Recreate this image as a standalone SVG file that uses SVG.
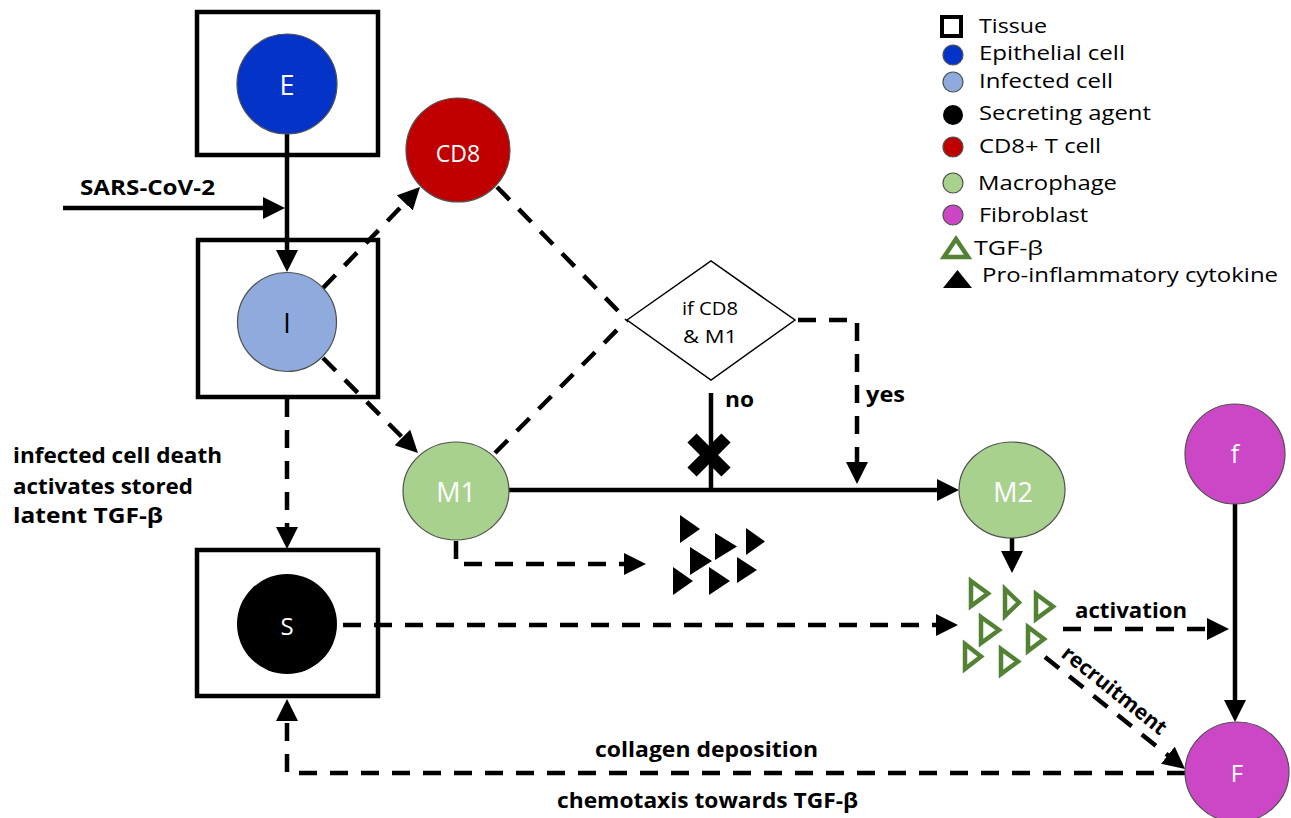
<svg xmlns="http://www.w3.org/2000/svg" width="1291" height="818" viewBox="0 0 1291 818">
<style>
.box{fill:none;stroke:#000;stroke-width:4.5}
.cell{stroke:#505050;stroke-width:1.2}
.nl{font-family:'Open Sans','Liberation Sans',sans-serif;fill:#fff;text-anchor:middle}
.t{font-family:'Open Sans','Liberation Sans',sans-serif;fill:#000}
.b{font-family:'Open Sans','Liberation Sans',sans-serif;font-weight:bold;fill:#000}
.s{fill:none;stroke:#000;stroke-width:4.5}
.d{fill:none;stroke:#000;stroke-width:4.5;stroke-dasharray:18 13}
.tg{fill:#fff;stroke:#548235;stroke-width:4.5;stroke-linejoin:miter}
</style>
<defs>
<marker id="ah" markerUnits="userSpaceOnUse" markerWidth="24" markerHeight="24" refX="14" refY="11" orient="auto">
<path d="M0,0 L22,11 L0,22 z" fill="#000"/>
</marker>
</defs>
<rect width="1291" height="818" fill="#fff"/>

<g id="connectors">
<path class="s" d="M63,208 H277" marker-end="url(#ah)"/>
<path class="s" d="M287,134 V264" marker-end="url(#ah)"/>
<path class="d" d="M323,288 L414.5,192.8" marker-end="url(#ah)"/>
<path class="d" d="M323,358 L412.3,447.3" marker-end="url(#ah)"/>
<path class="d" d="M287,399 V541" marker-end="url(#ah)"/>
<path class="d" d="M497,187 L627,320"/>
<path class="d" d="M495,453 L627,320"/>
<path class="d" d="M798,320 H857 V476" marker-end="url(#ah)"/>
<path class="s" d="M711,393 V490"/>
<path d="M692,438 L726,472 M726,438 L692,472" stroke="#000" stroke-width="13" fill="none"/>
<path class="s" d="M508,490 H951" marker-end="url(#ah)"/>
<path class="d" d="M456,541 V564 H638" marker-end="url(#ah)"/>
<path class="s" d="M1012,538 V565" marker-end="url(#ah)"/>
<path class="d" d="M343,625 H950" marker-end="url(#ah)"/>
<path class="d" d="M1063,629 H1221" marker-end="url(#ah)"/>
<path class="s" d="M1235,503 V714" marker-end="url(#ah)"/>
<path class="d" d="M1045,657 L1178.8,764" marker-end="url(#ah)"/>
<path class="d" d="M1185,773 H287 V707" marker-end="url(#ah)"/>
</g>

<g id="node-E">
<rect class="box" x="197" y="12" width="181" height="143"/>
<circle class="cell" cx="287" cy="84" r="50" fill="#0433C8"/>
<text class="nl" x="287" y="95" font-size="27">E</text>
</g>
<g id="node-I">
<rect class="box" x="198" y="240" width="180" height="157"/>
<circle class="cell" cx="287" cy="322" r="49.5" fill="#8FAADC"/>
<text class="nl" x="287" y="333" font-size="27" style="fill:#000">I</text>
</g>
<g id="node-S">
<rect class="box" x="197" y="550" width="181" height="146"/>
<circle cx="287" cy="624" r="50" fill="#000"/>
<text class="nl" x="287" y="635" font-size="24">S</text>
</g>
<g id="node-CD8">
<circle class="cell" cx="458" cy="150" r="52" fill="#C00000"/>
<text class="nl" x="458" y="162" font-size="23">CD8</text>
</g>
<g id="node-M1">
<ellipse class="cell" cx="456" cy="491" rx="53" ry="49" fill="#A9D18E"/>
<text class="nl" x="456" y="502" font-size="27">M1</text>
</g>
<g id="node-M2">
<ellipse class="cell" cx="1012" cy="490" rx="53" ry="48" fill="#A9D18E"/>
<text class="nl" x="1013" y="502" font-size="27">M2</text>
</g>
<g id="node-f">
<circle class="cell" cx="1235" cy="454" r="50" fill="#CB47C5"/>
<text class="nl" x="1235" y="463" font-size="25">f</text>
</g>
<g id="node-F">
<ellipse class="cell" cx="1237" cy="772" rx="52" ry="50" fill="#CB47C5"/>
<text class="nl" x="1237" y="782" font-size="24">F</text>
</g>
<g id="node-decision">
<polygon points="627,320 711,261 795,320 711,380" fill="#fff" stroke="#000" stroke-width="1.5"/>
<text class="t" x="710" y="315" font-size="19" text-anchor="middle" textLength="56" lengthAdjust="spacingAndGlyphs">if CD8</text>
<text class="t" x="710" y="343" font-size="19" text-anchor="middle" textLength="54" lengthAdjust="spacingAndGlyphs">&amp; M1</text>
</g>

<g id="cytokines" fill="#000">
<polygon points="680,515 700,529 680,543"/>
<polygon points="715,533 737,546.5 715,560"/>
<polygon points="746,528 765,541.5 746,555"/>
<polygon points="690,547 712,561 690,575"/>
<polygon points="737,557 757,570 737,583"/>
<polygon points="673,567 693,581 673,595"/>
<polygon points="709,567 730,581 709,595"/>
</g>
<g id="tgfb">
<polygon class="tg" points="971,581 988,593.5 971,606"/>
<polygon class="tg" points="1005,589 1019,602.5 1005,616"/>
<polygon class="tg" points="1036,594 1053,606.5 1036,619"/>
<polygon class="tg" points="981,617 999,630 981,643"/>
<polygon class="tg" points="1028,627 1044,639 1028,651"/>
<polygon class="tg" points="965,644 981,656.5 965,669"/>
<polygon class="tg" points="1001,649 1018,661.5 1001,674"/>
</g>

<g id="labels">
<text class="b" x="80" y="195" font-size="21" textLength="135" lengthAdjust="spacingAndGlyphs">SARS-CoV-2</text>
<text class="b" x="13" y="463" font-size="21" textLength="209" lengthAdjust="spacingAndGlyphs">infected cell death</text>
<text class="b" x="13" y="494" font-size="21" textLength="180" lengthAdjust="spacingAndGlyphs">activates stored</text>
<text class="b" x="13" y="523" font-size="21" textLength="150" lengthAdjust="spacingAndGlyphs">latent TGF-β</text>
<text class="b" x="725" y="407" font-size="21" textLength="29" lengthAdjust="spacingAndGlyphs">no</text>
<text class="b" x="866" y="402" font-size="21" textLength="39" lengthAdjust="spacingAndGlyphs">yes</text>
<text class="b" x="1075" y="618" font-size="21" textLength="112" lengthAdjust="spacingAndGlyphs">activation</text>
<text class="b" x="0" y="0" font-size="21" text-anchor="middle" textLength="128" lengthAdjust="spacingAndGlyphs" transform="translate(1110,696) rotate(38.7)">recruitment</text>
<text class="b" x="595" y="757" font-size="21" textLength="223" lengthAdjust="spacingAndGlyphs">collagen deposition</text>
<text class="b" x="557" y="808" font-size="21" textLength="301" lengthAdjust="spacingAndGlyphs">chemotaxis towards TGF-β</text>
</g>

<g id="legend">
<rect x="942" y="17" width="19" height="19" fill="none" stroke="#000" stroke-width="4"/>
<text class="t" x="979" y="33" font-size="20" textLength="68" lengthAdjust="spacingAndGlyphs">Tissue</text>
<circle class="cell" cx="953" cy="55" r="10" fill="#0433C8"/>
<text class="t" x="979" y="60" font-size="20" textLength="146" lengthAdjust="spacingAndGlyphs">Epithelial cell</text>
<circle class="cell" cx="953" cy="82" r="10" fill="#8FAADC"/>
<text class="t" x="979" y="88" font-size="20" textLength="134" lengthAdjust="spacingAndGlyphs">Infected cell</text>
<circle cx="953" cy="115" r="10" fill="#000"/>
<text class="t" x="979" y="120" font-size="20" textLength="172" lengthAdjust="spacingAndGlyphs">Secreting agent</text>
<circle class="cell" cx="953" cy="147" r="10" fill="#C00000"/>
<text class="t" x="979" y="153" font-size="20" textLength="122" lengthAdjust="spacingAndGlyphs">CD8+ T cell</text>
<circle class="cell" cx="953" cy="183" r="10" fill="#A9D18E" stroke="#A9D18E"/>
<text class="t" x="978" y="190" font-size="20" textLength="139" lengthAdjust="spacingAndGlyphs">Macrophage</text>
<circle class="cell" cx="953" cy="215" r="10" fill="#CB47C5"/>
<text class="t" x="979" y="222" font-size="20" textLength="109" lengthAdjust="spacingAndGlyphs">Fibroblast</text>
<polygon class="tg" points="944,257 956,239 968,257"/>
<text class="t" x="974" y="255" font-size="20" textLength="69" lengthAdjust="spacingAndGlyphs">TGF-β</text>
<polygon points="943,288 957.5,270 972,288" fill="#000"/>
<text class="t" x="982" y="282" font-size="20" textLength="296" lengthAdjust="spacingAndGlyphs">Pro-inflammatory cytokine</text>
</g>
</svg>
